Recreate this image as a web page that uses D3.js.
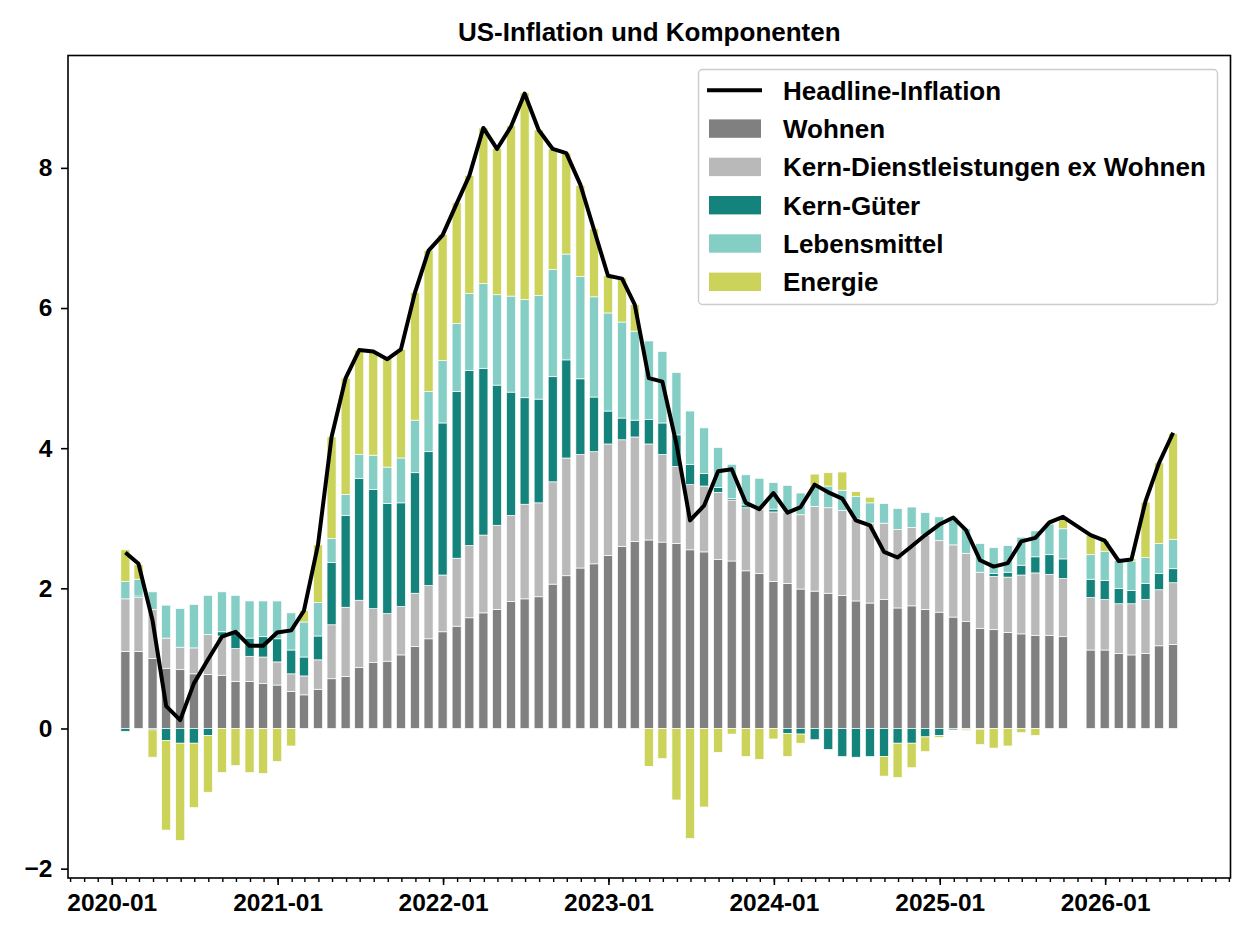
<!DOCTYPE html>
<meta charset="utf-8">
<script src="https://cdn.jsdelivr.net/npm/d3@7"></script>
<style>
  body {
    margin: 0;
    background: #fff;
  }
  svg text {
    font-family: "Liberation Sans", Arial, sans-serif;
    font-weight: bold;
    fill: #000;
  }
</style>
<body>
<div id="chart"></div>
<script>
// monthly data, Oct 2025 missing (null)
const months = [
  "2020-01","2020-02","2020-03","2020-04","2020-05","2020-06","2020-07","2020-08","2020-09","2020-10","2020-11","2020-12",
  "2021-01","2021-02","2021-03","2021-04","2021-05","2021-06","2021-07","2021-08","2021-09","2021-10","2021-11","2021-12",
  "2022-01","2022-02","2022-03","2022-04","2022-05","2022-06","2022-07","2022-08","2022-09","2022-10","2022-11","2022-12",
  "2023-01","2023-02","2023-03","2023-04","2023-05","2023-06","2023-07","2023-08","2023-09","2023-10","2023-11","2023-12",
  "2024-01","2024-02","2024-03","2024-04","2024-05","2024-06","2024-07","2024-08","2024-09","2024-10","2024-11","2024-12",
  "2025-01","2025-02","2025-03","2025-04","2025-05","2025-06","2025-07","2025-08","2025-09","2025-10","2025-11","2025-12",
  "2026-01","2026-02","2026-03","2026-04","2026-05"
];

const wohnen = [
  1.10,1.10,1.00,0.86,0.84,0.78,0.77,0.76,0.67,0.67,0.64,0.62,
  0.53,0.48,0.56,0.71,0.74,0.87,0.94,0.96,1.05,1.17,1.28,1.38,
  1.46,1.58,1.65,1.70,1.81,1.85,1.88,2.06,2.18,2.29,2.35,2.47,
  2.60,2.67,2.69,2.66,2.64,2.55,2.52,2.41,2.39,2.25,2.21,2.10,
  2.07,1.99,1.96,1.93,1.90,1.82,1.79,1.84,1.72,1.75,1.70,1.66,
  1.59,1.53,1.43,1.41,1.37,1.35,1.33,1.33,1.31,null,1.12,1.12,
  1.07,1.05,1.07,1.18,1.20
];
const kernDienst = [
  0.75,0.77,0.70,0.43,0.32,0.37,0.57,0.56,0.47,0.36,0.38,0.33,
  0.25,0.27,0.42,0.77,0.99,0.96,0.77,0.68,0.69,0.76,0.76,0.81,
  0.97,1.03,1.11,1.20,1.23,1.35,1.34,1.46,1.68,1.62,1.60,1.59,
  1.52,1.49,1.37,1.25,1.10,0.93,0.94,0.96,0.87,0.90,0.92,0.99,
  1.02,1.06,1.21,1.22,1.21,1.17,1.14,1.09,1.12,1.12,1.06,1.02,
  1.03,0.97,0.80,0.76,0.79,0.84,0.89,0.87,0.83,null,0.75,0.72,
  0.71,0.73,0.77,0.80,0.88
];
const kernGueter = [
  -0.04,0.02,-0.02,-0.17,-0.21,-0.21,-0.10,0.06,0.25,0.26,0.29,0.33,
  0.34,0.27,0.34,0.89,1.31,1.74,1.70,1.57,1.48,1.72,1.91,2.17,
  2.38,2.50,2.38,2.00,1.76,1.52,1.48,1.50,1.40,1.08,0.78,0.47,
  0.31,0.24,0.35,0.45,0.45,0.29,0.18,0.07,0.02,0.04,0.00,0.04,
  -0.07,-0.08,-0.16,-0.30,-0.40,-0.41,-0.40,-0.40,-0.21,-0.21,-0.12,-0.10,
  -0.02,-0.01,-0.01,0.04,0.07,0.14,0.23,0.28,0.28,null,0.26,0.27,
  0.22,0.19,0.23,0.23,0.20
];
const lebensmittel = [
  0.25,0.24,0.25,0.47,0.55,0.62,0.56,0.57,0.51,0.53,0.51,0.54,
  0.53,0.50,0.48,0.34,0.30,0.34,0.49,0.52,0.64,0.75,0.86,0.89,
  0.97,1.10,1.21,1.29,1.37,1.40,1.48,1.53,1.51,1.46,1.43,1.40,
  1.37,1.27,1.12,1.02,0.89,0.76,0.65,0.57,0.49,0.43,0.44,0.38,
  0.38,0.31,0.29,0.31,0.29,0.32,0.29,0.28,0.30,0.29,0.32,0.34,
  0.39,0.35,0.41,0.37,0.38,0.40,0.37,0.44,0.43,null,0.35,0.42,
  0.40,0.42,0.37,0.43,0.42
];
const energie = [
  0.45,0.21,-0.39,-1.28,-1.39,-0.92,-0.81,-0.63,-0.53,-0.63,-0.64,-0.47,
  -0.25,0.16,0.82,1.45,1.66,1.49,1.47,1.55,1.55,1.82,2.01,1.80,
  1.72,1.68,2.22,2.09,2.43,2.95,2.36,1.72,1.44,1.30,0.97,0.53,
  0.63,0.38,-0.54,-0.43,-1.02,-1.57,-1.12,-0.34,-0.08,-0.40,-0.44,-0.15,
  -0.33,-0.13,0.17,0.19,0.26,0.07,0.08,-0.28,-0.49,-0.35,-0.21,-0.03,
  0.01,-0.02,-0.22,-0.28,-0.25,-0.06,-0.10,0.02,0.17,null,0.28,0.15,
  -0.01,0.03,0.79,1.15,1.51
];
const headline = [
  2.51,2.35,1.54,0.32,0.12,0.64,0.98,1.31,1.38,1.18,1.18,1.37,
  1.40,1.68,2.62,4.16,5.00,5.40,5.38,5.27,5.41,6.22,6.82,7.04,
  7.49,7.89,8.57,8.27,8.59,9.06,8.54,8.27,8.21,7.76,7.12,6.46,
  6.42,6.05,5.00,4.95,4.06,2.97,3.18,3.67,3.70,3.22,3.13,3.36,
  3.08,3.16,3.48,3.37,3.28,2.97,2.90,2.52,2.44,2.60,2.76,2.91,
  3.01,2.83,2.40,2.31,2.36,2.67,2.72,2.94,3.02,null,2.76,2.68,
  2.39,2.41,3.24,3.79,4.22
];

const seriesNames = ["Wohnen", "Kern-Dienstleistungen ex Wohnen", "Kern-Güter", "Lebensmittel", "Energie"];
const seriesValues = [wohnen, kernDienst, kernGueter, lebensmittel, energie];
const seriesColors = ["#808080", "#b9b9b9", "#14837b", "#85cec5", "#ccd35a"];
const lineName = "Headline-Inflation";
const title = "US-Inflation und Komponenten";
const yTicks = [-2, 0, 2, 4, 6, 8];

const width = 1254, height = 940;
const margin = {top: 55.5, right: 23.5, bottom: 62, left: 68};

const parse = d3.utcParse("%Y-%m");
// bars sit at month end
const dates = months.map(m => d3.utcDay.offset(d3.utcMonth.offset(parse(m), 1), -1));
const DAY = 864e5;
const barDays = 20;

const rows = months.map((m, i) => {
  const r = {date: dates[i], missing: wohnen[i] == null};
  seriesNames.forEach((k, j) => r[k] = seriesValues[j][i] == null ? 0 : seriesValues[j][i]);
  return r;
});

const stacked = d3.stack()
  .keys(seriesNames)
  .offset(d3.stackOffsetDiverging)(rows);

// matplotlib-like 5% margins
let lo = +dates[0] - barDays / 2 * DAY, hi = +dates[dates.length - 1] + barDays / 2 * DAY;
const padX = (hi - lo) * 0.05;
const x = d3.scaleUtc()
  .domain([new Date(lo - padX), new Date(hi + padX)])
  .range([margin.left, width - margin.right]);

const ymin = d3.min(stacked, s => d3.min(s, d => d[0]));
const ymax = d3.max(stacked, s => d3.max(s, d => d[1]));
const padY = (ymax - ymin) * 0.05;
const y = d3.scaleLinear()
  .domain([ymin - padY, ymax + padY])
  .range([height - margin.bottom, margin.top]);

const svg = d3.select("#chart").append("svg")
  .attr("width", width)
  .attr("height", height);

// bars
const barW = x(new Date(+dates[0] + barDays * DAY)) - x(dates[0]);
svg.append("g").selectAll("g")
  .data(stacked)
  .join("g")
    .attr("fill", (d, i) => seriesColors[i])
  .selectAll("rect")
  .data(d => d.filter(p => !p.data.missing && p[0] !== p[1]))
  .join("rect")
    .attr("x", d => x(d.data.date) - barW / 2)
    .attr("width", barW)
    .attr("y", d => y(Math.max(d[0], d[1])))
    .attr("height", d => Math.abs(y(d[0]) - y(d[1])))
    .attr("stroke", "#fff")
    .attr("stroke-width", 0.7);

// headline line, connected across the missing month
const linePts = dates.map((d, i) => [d, headline[i]]).filter(p => p[1] != null);
svg.append("path")
  .datum(linePts)
  .attr("fill", "none")
  .attr("stroke", "#000")
  .attr("stroke-width", 4)
  .attr("stroke-linejoin", "round")
  .attr("d", d3.line().x(p => x(p[0])).y(p => y(p[1])));

// axes
const xMajor = d3.utcYear.range(x.domain()[0], x.domain()[1]);
const xMinor = d3.utcMonth.range(x.domain()[0], x.domain()[1]);

svg.append("g")
  .attr("transform", `translate(0,${height - margin.bottom})`)
  .call(d3.axisBottom(x).tickValues(xMinor).tickSize(4).tickFormat(""))
  .call(g => g.select(".domain").remove())
  .call(g => g.selectAll("line").attr("stroke-width", 1.4));

svg.append("g")
  .attr("transform", `translate(0,${height - margin.bottom})`)
  .call(d3.axisBottom(x).tickValues(xMajor).tickSize(7).tickPadding(9).tickFormat(d3.utcFormat("%Y-%m")))
  .call(g => g.select(".domain").remove())
  .call(g => g.selectAll("line").attr("stroke-width", 1.6))
  .call(g => g.selectAll("text").style("font-size", "24.5px"));

svg.append("g")
  .attr("transform", `translate(${margin.left},0)`)
  .call(d3.axisLeft(y).tickValues(yTicks).tickSize(7).tickPadding(8.5).tickFormat(d => d < 0 ? "\u2212" + Math.abs(d) : d))
  .call(g => g.select(".domain").remove())
  .call(g => g.selectAll("line").attr("stroke-width", 1.6))
  .call(g => g.selectAll("text").style("font-size", "24.5px"));

// frame
svg.append("rect")
  .attr("x", margin.left)
  .attr("y", margin.top)
  .attr("width", width - margin.left - margin.right)
  .attr("height", height - margin.top - margin.bottom)
  .attr("fill", "none")
  .attr("stroke", "#000")
  .attr("stroke-width", 1.6);

// title
svg.append("text")
  .attr("x", (margin.left + width - margin.right) / 2)
  .attr("y", 41)
  .attr("text-anchor", "middle")
  .style("font-size", "26px")
  .text(title);

// legend
const lg = svg.append("g");
lg.append("rect")
  .attr("x", 698.5).attr("y", 69.5)
  .attr("width", 519).attr("height", 235)
  .attr("rx", 4)
  .attr("fill", "#fff").attr("fill-opacity", 0.8)
  .attr("stroke", "#cccccc").attr("stroke-width", 1.4);

const rowY = i => 90.3 + i * 38.3;
lg.append("line")
  .attr("x1", 707).attr("x2", 762)
  .attr("y1", rowY(0)).attr("y2", rowY(0))
  .attr("stroke", "#000").attr("stroke-width", 4);
lg.append("text")
  .attr("x", 783).attr("y", rowY(0) + 9.3)
  .style("font-size", "26px")
  .text(lineName);

seriesNames.forEach((name, i) => {
  lg.append("rect")
    .attr("x", 709).attr("y", rowY(i + 1) - 9.2)
    .attr("width", 52).attr("height", 18.4)
    .attr("fill", seriesColors[i]);
  lg.append("text")
    .attr("x", 783).attr("y", rowY(i + 1) + 9.3)
    .style("font-size", "26px")
    .text(name);
});
</script>
</body>
